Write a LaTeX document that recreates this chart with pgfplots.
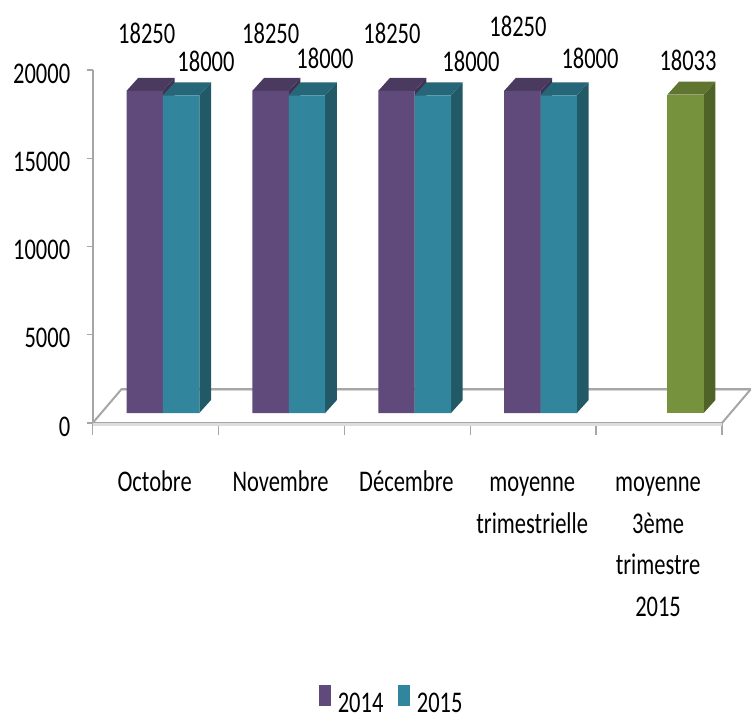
\documentclass[border=0pt]{standalone}
\usepackage{pgfplots}
\pgfplotsset{compat=1.18}
\usepackage{pgfplotstable}
\usepackage{fontspec}
\setmainfont[FakeStretch=0.75]{Carlito}
\definecolor{cA}{HTML}{604A7B}\definecolor{cAt}{HTML}{4B3A5F}\definecolor{cAs}{HTML}{403152}
\definecolor{cB}{HTML}{31859C}\definecolor{cBt}{HTML}{256678}\definecolor{cBs}{HTML}{215967}
\definecolor{cC}{HTML}{76923C}\definecolor{cCt}{HTML}{5F7530}\definecolor{cCs}{HTML}{4F6228}
\definecolor{axg}{HTML}{A6A6A6}\definecolor{axs}{HTML}{DDDDDD}
\pgfplotstableread{
x v
0.5 18250
1.5 18250
2.5 18250
3.5 18250
}\tA
\pgfplotstableread{
x v
0.5 18000
1.5 18000
2.5 18000
3.5 18000
}\tB
\pgfplotstableread{
x v
4.5 18033
}\tC
\newcommand{\lbl}{\fontsize{30}{41.7}\selectfont}
\newcommand{\fl}{\rule{0pt}{30pt}}
% #1 left x, #2 value, #3 value + depth, #4 side colour, #5 top colour
\newcommand{\faces}[5]{%
  \pgfmathsetmacro\xa{#1}%
  \pgfmathsetmacro\xb{#1+0.2892}%
  \pgfmathsetmacro\xc{#1+0.2892+0.093}%
  \pgfmathsetmacro\xd{#1+0.093}%
  \addplot[forget plot,fill=#4,draw=none,yshift=10pt] coordinates {(\xb,0) (\xc,736) (\xc,#3) (\xb,#2)} --cycle;
  \addplot[forget plot,fill=#5,draw=none,yshift=10pt] coordinates {(\xa,#2) (\xd,#3) (\xc,#3) (\xb,#2)} --cycle;
}
\begin{document}
\begin{tikzpicture}
\path[use as bounding box] (0,0) rectangle (751pt,713pt);
\begin{axis}[
  at={(92.7pt,290pt)},anchor=south west,
  scale only axis,width=629.3pt,height=353pt,
  xmin=0,xmax=5,ymin=0,ymax=20000,
  clip=false,
  axis lines*=left,
  axis line style={-,draw=axg,line width=2pt},
  xtick={0.5,1.5,2.5,3.5,4.5},
  xticklabels={\fl Octobre,\fl Novembre,\fl Décembre,{\fl moyenne\\trimestrielle},{\fl moyenne\\3ème\\trimestre\\2015}},
  minor xtick={0,1,2,3,4,5},
  major x tick style={draw=none},
  minor x tick style={draw=axg,line width=1.4pt},
  minor tick length=12pt,
  xtick align=outside,
  ytick={0,5000,10000,15000,20000},
  scaled y ticks=false,
  ytick align=outside,
  y tick style={draw=axg,line width=1.4pt},
  major tick length=6pt,
  /pgf/number format/set thousands separator={},
  /pgf/number format/assume math mode=true,
  x tick label style={font=\lbl,align=center,anchor=north,yshift=-29pt,xshift=-1pt},
  y tick label style={font=\lbl,xshift=-13pt,yshift=-3.5pt},
  legend style={at={(0.4755,-0.784)},anchor=center,draw=none,fill=none,font=\lbl,legend columns=2,
    nodes={inner sep=2pt,text depth=0pt},
    /tikz/every even column/.append style={column sep=13pt},
    /tikz/every odd column/.append style={column sep=4.5pt}},
]
% floor
\addplot[forget plot,draw=axs,line width=3pt] coordinates {(0.23,1870) (5.23,1870)};
\addplot[forget plot,draw=axg,line width=2pt] coordinates {(0,0) (0.23,1926) (5.23,1926) (5,0)};
\addplot[forget plot,draw=axs,line width=3pt] coordinates {(0,-70) (5,-70)};
% 2014
\faces{0.2686}{18250}{18986}{cAs}{cAt}
\faces{1.2686}{18250}{18986}{cAs}{cAt}
\faces{2.2686}{18250}{18986}{cAs}{cAt}
\faces{3.2686}{18250}{18986}{cAs}{cAt}
\addplot[ybar,bar width=36.4pt,bar shift=-10.9pt,fill=cA,draw=none,yshift=10pt,
  legend image code/.code={\fill[cA] (0pt,-13pt) rectangle (12pt,8pt);}] table[x=x,y=v] {\tA};
\addlegendentry{2014}
% 2015
\faces{0.5578}{18000}{18736}{cBs}{cBt}
\faces{1.5578}{18000}{18736}{cBs}{cBt}
\faces{2.5578}{18000}{18736}{cBs}{cBt}
\faces{3.5578}{18000}{18736}{cBs}{cBt}
\addplot[ybar,bar width=36.4pt,bar shift=25.5pt,fill=cB,draw=none,yshift=10pt,
  legend image code/.code={\fill[cB] (0pt,-13pt) rectangle (12pt,8pt);}] table[x=x,y=v] {\tB};
\addlegendentry{2015}
\faces{4.5654}{18033}{18769}{cCs}{cCt}
\addplot[forget plot,ybar,bar width=36.4pt,bar shift=26.4pt,fill=cC,draw=none,yshift=10pt] table[x=x,y=v] {\tC};
\end{axis}
\foreach \x/\y/\t in {146.7/33/18250,206/61.6/18000,270.7/33/18250,325/58/18000,392/33/18250,471/61/18000,518/26/18250,590/58/18000,688/60/18033}
  \node[font=\lbl,inner sep=0pt] at (\x pt,713pt-\y pt) {\t};
\end{tikzpicture}
\end{document}
